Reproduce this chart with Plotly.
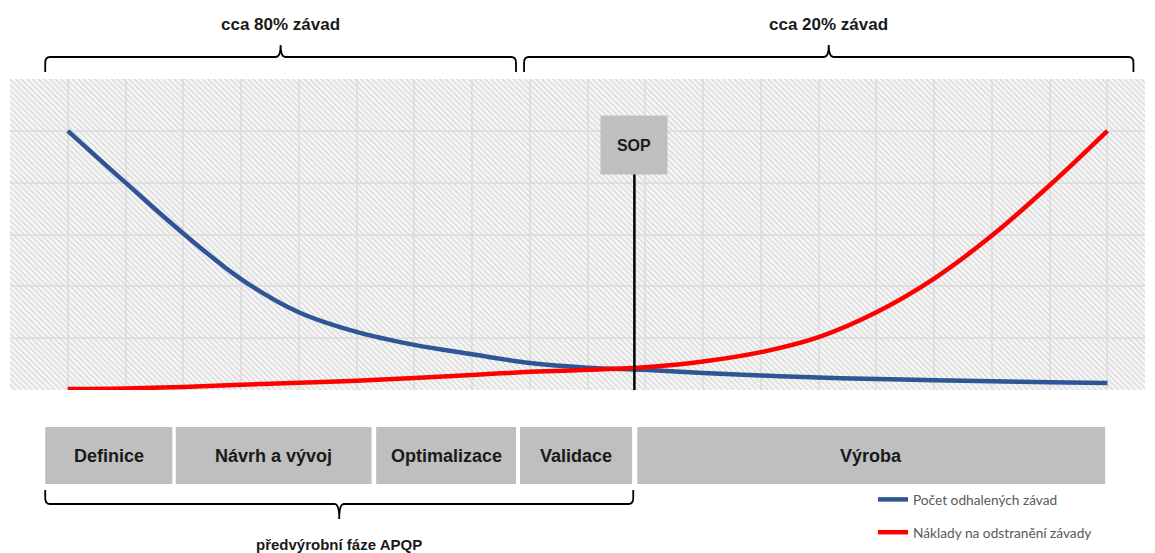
import plotly.graph_objects as go

# ---------------- data ----------------
x_steps = list(range(1, 20))
defects_found = [5.0, 4.0, 3.02, 2.14, 1.50, 1.12, 0.87, 0.69, 0.52, 0.43,
                 0.39, 0.33, 0.28, 0.24, 0.21, 0.19, 0.17, 0.15, 0.135]
repair_cost = [0.02, 0.03, 0.06, 0.10, 0.14, 0.18, 0.23, 0.29, 0.35, 0.39,
               0.44, 0.55, 0.73, 1.02, 1.50, 2.15, 2.98, 3.95, 5.0]
series_names = ["Počet odhalených závad", "Náklady na odstranění závady"]
series_colors = ["#2F5597", "#FF0000"]

phase_labels = ["Definice", "Návrh a vývoj", "Optimalizace", "Validace", "Výroba"]
phase_start = [0.61, 2.87, 6.34, 8.83, 10.86]
phase_end = [2.81, 6.26, 8.76, 10.77, 18.96]

sop_x = 10.81
sop_label = "SOP"

brace_labels = ["cca 80% závad", "cca 20% závad", "předvýrobní fáze APQP"]
brace_start = [0.61, 8.90, 0.61]
brace_end = [8.76, 19.45, 10.79]

X_MAX = 19.65
Y_MAX = 6.0

# ---------------- layout helpers ----------------
W, H = 1155, 553
M_L, M_R, M_T, M_B = 10, 10, 79, 163
PLOT_H = H - M_T - M_B
PLOT_BOTTOM = H - M_B


def py2paper(py):
    return (PLOT_BOTTOM - py) / PLOT_H


BOLD = "Liberation Sans, Arial, sans-serif"

fig = go.Figure()

# hatched plot background
fig.add_trace(go.Bar(
    x=[X_MAX / 2], y=[Y_MAX], width=[X_MAX], base=0,
    marker=dict(color="rgba(0,0,0,0)", line=dict(width=0),
                pattern=dict(shape="\\", fgcolor="#d6d6d6", bgcolor="rgba(0,0,0,0)",
                             size=4, solidity=0.33, fillmode="replace")),
    showlegend=False, hoverinfo="skip"))

for i, (name, vals) in enumerate(zip(series_names, [defects_found, repair_cost])):
    fig.add_trace(go.Scatter(
        x=x_steps, y=vals, mode="lines", name=name, legendgroup=f"g{i}",
        line=dict(color=series_colors[i], width=4.5, shape="spline", smoothing=1.0)))

shapes = []
annotations = []

# phase boxes
for lab, s, e in zip(phase_labels, phase_start, phase_end):
    shapes.append(dict(type="rect", xref="x", yref="paper", x0=s, x1=e,
                       y0=py2paper(484), y1=py2paper(427),
                       fillcolor="#BFBFBF", line=dict(width=0)))
    annotations.append(dict(x=(s + e) / 2, y=py2paper(456), xref="x", yref="paper",
                            xanchor="center", yanchor="middle",
                            text=f"<b>{lab}</b>", showarrow=False,
                            font=dict(family=BOLD, size=18, color="#1a1a1a")))

# SOP line and label
shapes.append(dict(type="line", xref="x", yref="y", x0=sop_x, x1=sop_x,
                   y0=0, y1=4.72, line=dict(color="black", width=2.5)))
annotations.append(dict(x=sop_x, y=4.72, xref="x", yref="y", text=f"<b>{sop_label}</b>",
                        xanchor="center", yanchor="middle",
                        showarrow=False, bgcolor="#BFBFBF", width=64, height=56,
                        borderpad=1, font=dict(family=BOLD, size=16, color="#1a1a1a")))


def brace(x0, x1, y_end, y_mid, y_tip, rx=0.08, hook=6):
    xc = (x0 + x1) / 2
    ye, ym, yt = py2paper(y_end), py2paper(y_mid), py2paper(y_tip)
    sign = 1 if y_end > y_mid else -1
    yh = py2paper(y_mid + sign * hook)
    return (f"M {x0},{ye} L {x0},{yh} Q {x0},{ym} {x0 + rx},{ym} "
            f"L {xc - rx},{ym} Q {xc},{ym} {xc},{yt} Q {xc},{ym} {xc + rx},{ym} "
            f"L {x1 - rx},{ym} Q {x1},{ym} {x1},{yh} L {x1},{ye}")


brace_geom = [(72, 57, 45, 24, 17), (72, 57, 45, 24, 17), (490, 504, 519, 544, 15)]
for lab, s, e, (ye, ym, yt, ylab, fs) in zip(brace_labels, brace_start, brace_end, brace_geom):
    shapes.append(dict(type="path", xref="x", yref="paper", path=brace(s, e, ye, ym, yt),
                       line=dict(color="black", width=1.8)))
    annotations.append(dict(x=(s + e) / 2, y=py2paper(ylab), xref="x", yref="paper",
                            xanchor="center", yanchor="middle",
                            text=f"<b>{lab}</b>", showarrow=False,
                            font=dict(family=BOLD, size=fs, color="#1a1a1a")))

fig.update_layout(
    width=W, height=H, autosize=False,
    margin=dict(l=M_L, r=M_R, t=M_T, b=M_B, pad=0, autoexpand=False),
    paper_bgcolor="white", plot_bgcolor="#f7f7f7",
    showlegend=True,
    legend=dict(x=(873 - M_L) / (W - M_L - M_R), y=py2paper(484), xanchor="left", yanchor="top",
                traceorder="grouped", tracegroupgap=12, itemwidth=30,
                font=dict(family="Lato, sans-serif", size=13.7, color="#595959"),
                bgcolor="rgba(0,0,0,0)"),
    xaxis=dict(range=[0, X_MAX], dtick=1, tick0=0, showgrid=True, gridcolor="#e3e3e3",
               gridwidth=1.5, zeroline=False, showticklabels=False, showline=False,
               fixedrange=True),
    yaxis=dict(range=[0, Y_MAX], dtick=1, tick0=0, showgrid=True, gridcolor="#e3e3e3",
               gridwidth=1.5, zeroline=False, showticklabels=False, showline=False,
               fixedrange=True),
    shapes=shapes, annotations=annotations,
    bargap=0,
)

fig.write_html("out.html", config={"responsive": False, "displayModeBar": False},
               post_script="document.body.style.margin='0px';")
